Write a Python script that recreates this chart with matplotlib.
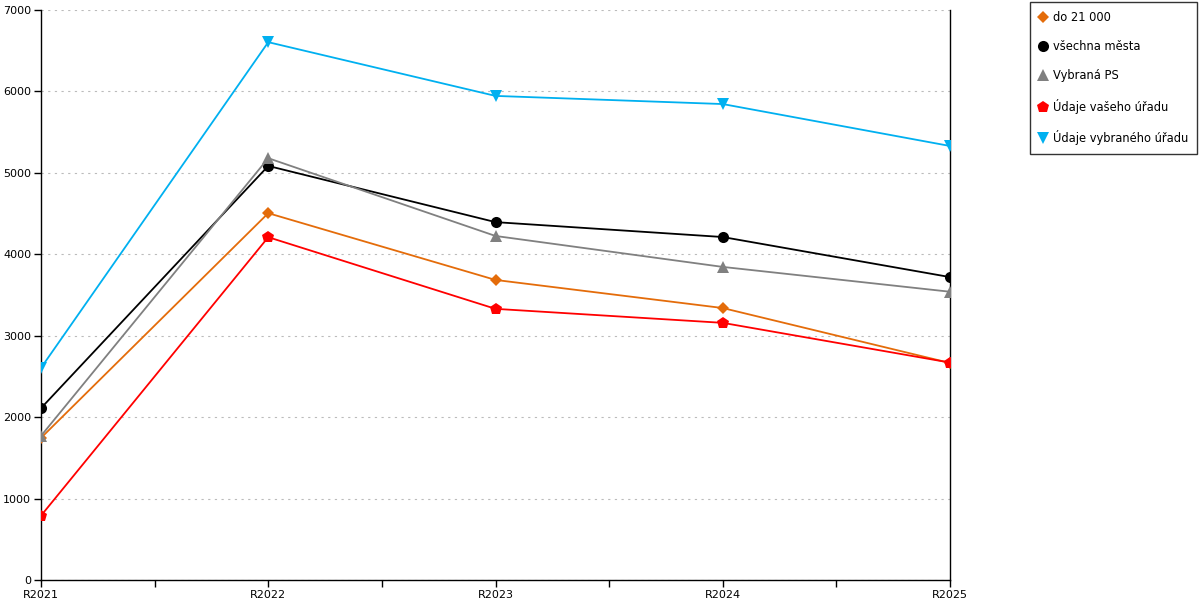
import matplotlib.pyplot as plt
from matplotlib.lines import Line2D

# Data
years = ["R2021", "R2022", "R2023", "R2024", "R2025"]
do_21000 = [1745, 4505, 3685, 3340, 2665]
vsechna_mesta = [2110, 5085, 4395, 4212, 3720]
vybrana_ps = [1770, 5180, 4225, 3845, 3540]
vas_urad = [790, 4210, 3330, 3158, 2670]
vybrany_urad = [2605, 6605, 5945, 5845, 5330]

series = [
    ("do 21 000", do_21000, "#E46C0A", "D", 6),
    ("všechna města", vsechna_mesta, "#000000", "o", 8),
    ("Vybraná PS", vybrana_ps, "#808080", "^", 8),
    ("Údaje vašeho úřadu", vas_urad, "#FF0000", "p", 9),
    ("Údaje vybraného úřadu", vybrany_urad, "#00B0F0", "v", 8),
]

plt.rcParams['font.family'] = ['DejaVu Sans']

fig = plt.figure(figsize=(12, 6), dpi=100)
ax = fig.add_axes([41/1200, 20/600, 909/1200, 570/600])

x = list(range(len(years)))
handles = []
for label, vals, color, marker, ms in series:
    ax.plot(x, vals, color=color, linewidth=1.3, marker=marker, markersize=ms,
            markeredgewidth=0, zorder=3)
    handles.append(Line2D([], [], linestyle='none', marker=marker, color=color,
                          markersize=ms, markeredgewidth=0, label=label))

ax.set_xlim(0, len(years) - 1)
ax.set_ylim(0, 7000)
ax.set_yticks(range(0, 7001, 1000))
ax.set_xticks(x)
ax.set_xticklabels(years)
ax.set_xticks([i + 0.5 for i in x[:-1]], minor=True)
ax.tick_params(axis='both', which='both', direction='out', length=5, width=1,
               labelsize=8, colors='black', pad=2)
ax.grid(axis='y', linestyle=(0, (2, 4)), color='#BBBBBB', linewidth=0.8)
ax.set_axisbelow(True)
ax.spines['top'].set_visible(False)
for s in ['left', 'right', 'bottom']:
    ax.spines[s].set_color('black')
    ax.spines[s].set_linewidth(1)

leg = fig.legend(handles=handles, loc='upper right',
                 bbox_to_anchor=(1197/1200, 598/600), fontsize=8.3,
                 frameon=True, fancybox=False, edgecolor='black',
                 handlelength=0.7, handletextpad=0.45, labelspacing=1.4,
                 borderpad=0.8, borderaxespad=0)
leg.get_frame().set_linewidth(1)

fig.savefig("out.png", dpi=100)
